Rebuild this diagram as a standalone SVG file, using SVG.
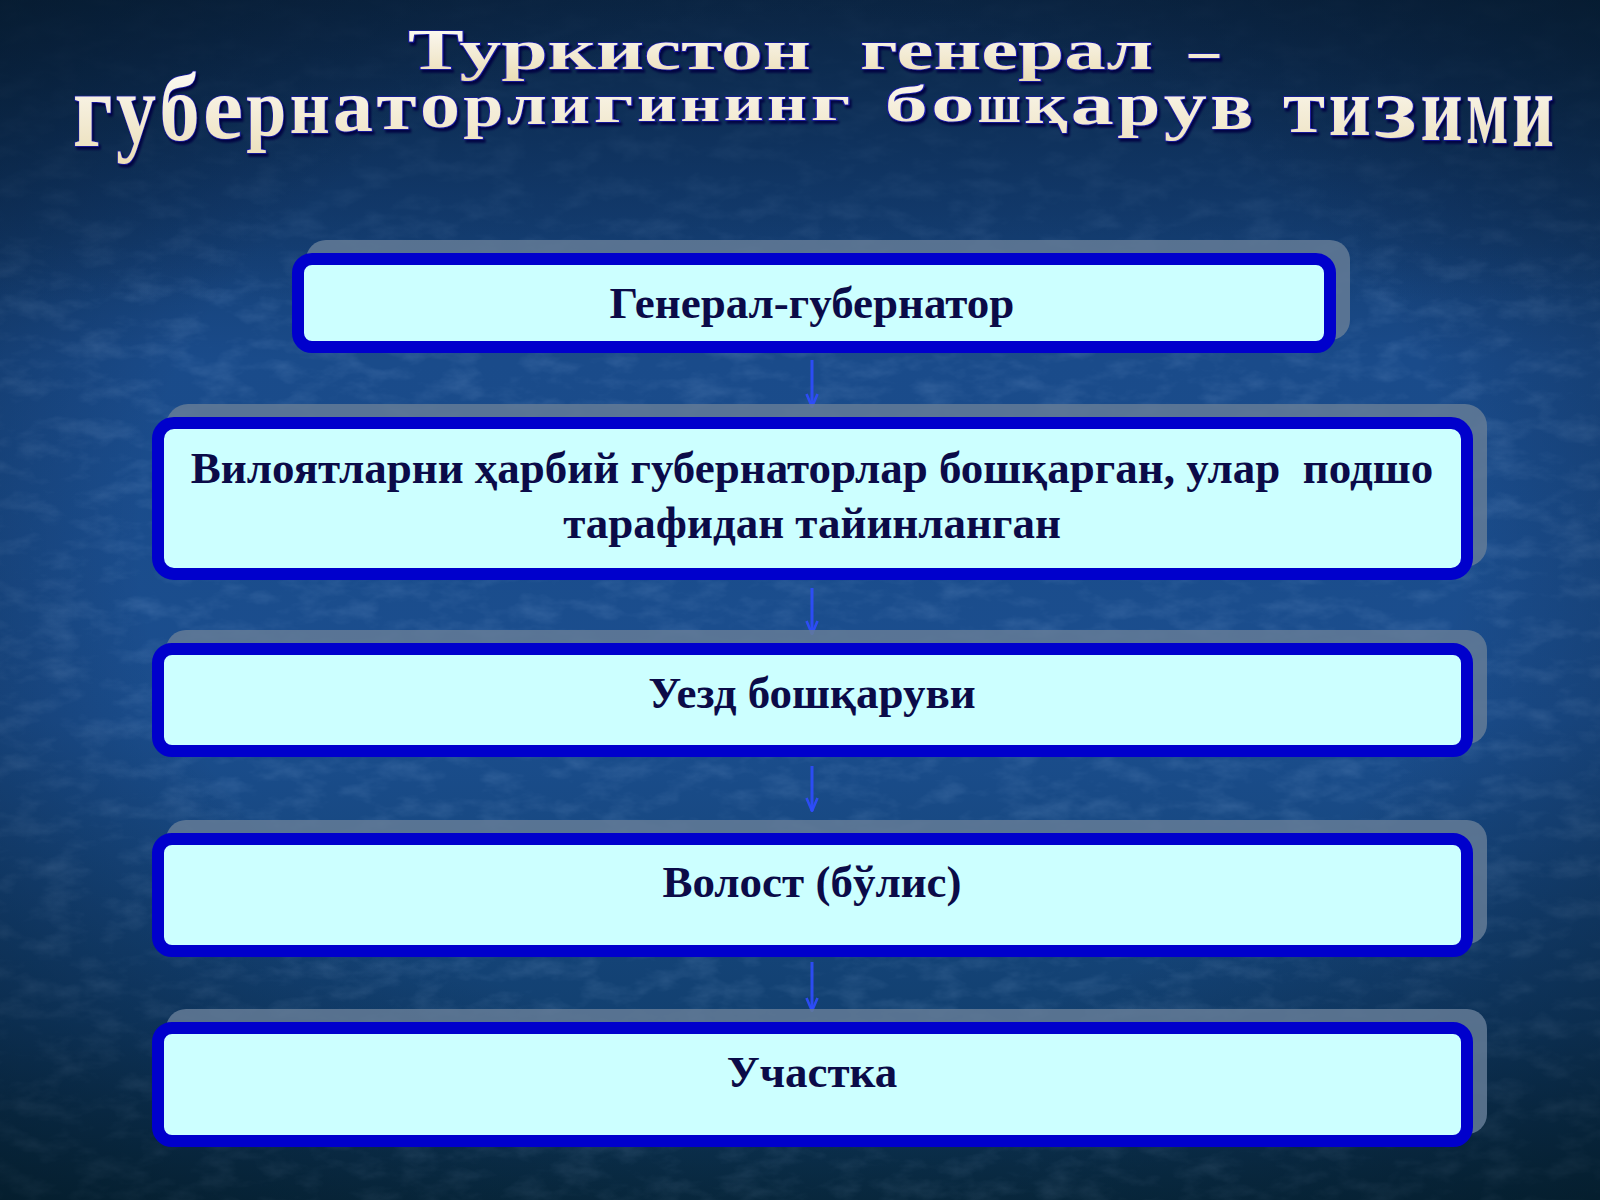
<svg xmlns="http://www.w3.org/2000/svg" width="1600" height="1200" viewBox="0 0 1600 1200">
<defs>
  <linearGradient id="bg" x1="0" y1="0" x2="0" y2="1">
    <stop offset="0" stop-color="#0c2748"/>
    <stop offset="0.12" stop-color="#113766"/>
    <stop offset="0.3" stop-color="#1a4b8a"/>
    <stop offset="0.6" stop-color="#1b4e8e"/>
    <stop offset="0.85" stop-color="#124070"/>
    <stop offset="1" stop-color="#0a2f48"/>
  </linearGradient>
  <radialGradient id="vig" cx="0.5" cy="0.45" r="0.75">
    <stop offset="0.55" stop-color="#000814" stop-opacity="0"/>
    <stop offset="1" stop-color="#001018" stop-opacity="0.55"/>
  </radialGradient>
  <linearGradient id="topfade" x1="0" y1="0" x2="0" y2="1">
    <stop offset="0" stop-color="#0b2645" stop-opacity="0.9"/>
    <stop offset="0.17" stop-color="#0f3360" stop-opacity="0.5"/>
    <stop offset="0.25" stop-color="#0f3360" stop-opacity="0"/>
  </linearGradient>
  <linearGradient id="titleFill" x1="0" y1="0" x2="0" y2="1">
    <stop offset="0" stop-color="#ffffff"/>
    <stop offset="1" stop-color="#eadcb4"/>
  </linearGradient>
  <filter id="noise" x="0" y="0" width="100%" height="100%">
    <feTurbulence type="fractalNoise" baseFrequency="0.025 0.05" numOctaves="4" seed="11"/>
    <feColorMatrix type="matrix" values="0 0 0 0 0.45  0 0 0 0 0.65  0 0 0 0 0.95  1.8 0 0 0 -0.8"/>
  </filter>
  <filter id="tshadow" x="-5%" y="-20%" width="110%" height="150%">
    <feDropShadow dx="2" dy="3" stdDeviation="1.2" flood-color="#000040" flood-opacity="0.9"/>
  </filter>
  <marker id="arr" viewBox="0 0 16 14" refX="15" refY="7" markerWidth="16" markerHeight="14" markerUnits="userSpaceOnUse" orient="auto">
    <path d="M2,1.5 L15,7 L2,12.5" fill="none" stroke="#2f4dff" stroke-width="2.6" stroke-opacity="0.9"/>
  </marker>
  <style>
    .shadow { fill: #647b96; fill-opacity: 0.85; }
    .box { fill: #ccffff; stroke: #0000cc; stroke-width: 12; }
    .lbl { font-family: "Liberation Serif", "Times New Roman", serif; font-weight: bold; font-size: 45px; fill: #0b0b48; text-anchor: middle; }
    .title { font-family: "Liberation Serif", "Times New Roman", serif; font-weight: bold; fill: url(#titleFill); stroke: #1c1ca8; stroke-width: 1.6; paint-order: stroke; filter: url(#tshadow); }
    .conn { stroke: #2f4dff; stroke-width: 3; stroke-opacity: 0.9; fill: none; }
  </style>
</defs>

<rect width="1600" height="1200" fill="url(#bg)"/>
<rect width="1600" height="1200" filter="url(#noise)" opacity="0.16"/>
<rect width="1600" height="1200" fill="url(#topfade)"/>
<rect width="1600" height="1200" fill="url(#vig)"/>

<g id="title">
  <text class="title" font-size="58" y="69"><tspan x="408" textLength="403" lengthAdjust="spacingAndGlyphs">Туркистон</tspan>  <tspan x="860" textLength="293" lengthAdjust="spacingAndGlyphs">генерал</tspan> <tspan x="1189" y="69" textLength="30" lengthAdjust="spacingAndGlyphs">–</tspan></text>
  <text class="title"><tspan x="72.7" y="146.3" font-size="107.2" textLength="40" lengthAdjust="spacingAndGlyphs">г</tspan><tspan x="116.1" y="143.2" font-size="100.5" textLength="40" lengthAdjust="spacingAndGlyphs">у</tspan><tspan x="159.5" y="140.3" font-size="94.2" textLength="40" lengthAdjust="spacingAndGlyphs">б</tspan><tspan x="202.9" y="137.6" font-size="88.3" textLength="40" lengthAdjust="spacingAndGlyphs">е</tspan><tspan x="246.3" y="135.1" font-size="82.9" textLength="40" lengthAdjust="spacingAndGlyphs">р</tspan><tspan x="289.7" y="132.8" font-size="77.9" textLength="40" lengthAdjust="spacingAndGlyphs">н</tspan><tspan x="333.1" y="130.7" font-size="73.3" textLength="40" lengthAdjust="spacingAndGlyphs">а</tspan><tspan x="376.5" y="128.8" font-size="69.1" textLength="40" lengthAdjust="spacingAndGlyphs">т</tspan><tspan x="419.9" y="127.0" font-size="65.3" textLength="40" lengthAdjust="spacingAndGlyphs">о</tspan><tspan x="463.3" y="125.5" font-size="61.9" textLength="40" lengthAdjust="spacingAndGlyphs">р</tspan><tspan x="506.7" y="124.1" font-size="59.0" textLength="40" lengthAdjust="spacingAndGlyphs">л</tspan><tspan x="550.1" y="123.0" font-size="56.5" textLength="40" lengthAdjust="spacingAndGlyphs">и</tspan><tspan x="593.5" y="122.0" font-size="54.4" textLength="40" lengthAdjust="spacingAndGlyphs">г</tspan><tspan x="636.9" y="121.2" font-size="52.7" textLength="40" lengthAdjust="spacingAndGlyphs">и</tspan><tspan x="680.3" y="120.6" font-size="51.4" textLength="40" lengthAdjust="spacingAndGlyphs">н</tspan><tspan x="723.7" y="120.2" font-size="50.5" textLength="40" lengthAdjust="spacingAndGlyphs">и</tspan><tspan x="767.1" y="120.0" font-size="50.1" textLength="40" lengthAdjust="spacingAndGlyphs">н</tspan><tspan x="810.5" y="120.0" font-size="50.0" textLength="40" lengthAdjust="spacingAndGlyphs">г</tspan> <tspan x="884.8" y="120.5" font-size="51.0" textLength="43" lengthAdjust="spacingAndGlyphs">б</tspan><tspan x="931.3" y="121.0" font-size="52.2" textLength="43" lengthAdjust="spacingAndGlyphs">о</tspan><tspan x="977.8" y="121.8" font-size="53.9" textLength="43" lengthAdjust="spacingAndGlyphs">ш</tspan><tspan x="1024.3" y="122.8" font-size="56.1" textLength="43" lengthAdjust="spacingAndGlyphs">қ</tspan><tspan x="1070.8" y="124.0" font-size="58.7" textLength="43" lengthAdjust="spacingAndGlyphs">а</tspan><tspan x="1117.3" y="125.4" font-size="61.8" textLength="43" lengthAdjust="spacingAndGlyphs">р</tspan><tspan x="1163.8" y="127.1" font-size="65.4" textLength="43" lengthAdjust="spacingAndGlyphs">у</tspan><tspan x="1210.3" y="129.0" font-size="69.5" textLength="43" lengthAdjust="spacingAndGlyphs">в</tspan> <tspan x="1282.9" y="132.3" font-size="76.7" textLength="42" lengthAdjust="spacingAndGlyphs">т</tspan><tspan x="1328.8" y="134.7" font-size="81.9" textLength="42" lengthAdjust="spacingAndGlyphs">и</tspan><tspan x="1374.6" y="137.3" font-size="87.6" textLength="42" lengthAdjust="spacingAndGlyphs">з</tspan><tspan x="1420.4" y="140.1" font-size="93.7" textLength="42" lengthAdjust="spacingAndGlyphs">и</tspan><tspan x="1466.3" y="143.2" font-size="100.4" textLength="42" lengthAdjust="spacingAndGlyphs">м</tspan><tspan x="1512.1" y="146.4" font-size="107.4" textLength="42" lengthAdjust="spacingAndGlyphs">и</tspan></text>
</g>

<g id="connectors">
  <line class="conn" x1="812" y1="360" x2="812" y2="407" marker-end="url(#arr)"/>
  <line class="conn" x1="812" y1="588" x2="812" y2="634" marker-end="url(#arr)"/>
  <line class="conn" x1="812" y1="766" x2="812" y2="811" marker-end="url(#arr)"/>
  <line class="conn" x1="812" y1="962" x2="812" y2="1011" marker-end="url(#arr)"/>
</g>

<g id="node1">
  <rect class="shadow" x="306" y="240" width="1044" height="100" rx="20"/>
  <rect class="box" x="298" y="259" width="1032" height="88" rx="14"/>
  <text class="lbl" x="812" y="318">Генерал-губернатор</text>
</g>

<g id="node2">
  <rect class="shadow" x="166" y="404" width="1321" height="163" rx="22"/>
  <rect class="box" x="158" y="423" width="1309" height="151" rx="16"/>
  <text class="lbl" xml:space="preserve"><tspan x="812" y="483">Вилоятларни ҳарбий губернаторлар бошқарган, улар  подшо</tspan><tspan x="812" y="538">тарафидан тайинланган</tspan></text>
</g>

<g id="node3">
  <rect class="shadow" x="166" y="630" width="1321" height="114" rx="20"/>
  <rect class="box" x="158" y="649" width="1309" height="102" rx="14"/>
  <text class="lbl" x="812" y="708">Уезд бошқаруви</text>
</g>

<g id="node4">
  <rect class="shadow" x="166" y="820" width="1321" height="124" rx="20"/>
  <rect class="box" x="158" y="839" width="1309" height="112" rx="14"/>
  <text class="lbl" x="812" y="897">Волост (бўлис)</text>
</g>

<g id="node5">
  <rect class="shadow" x="166" y="1009" width="1321" height="125" rx="20"/>
  <rect class="box" x="158" y="1028" width="1309" height="113" rx="14"/>
  <text class="lbl" x="812" y="1087">Участка</text>
</g>
</svg>
